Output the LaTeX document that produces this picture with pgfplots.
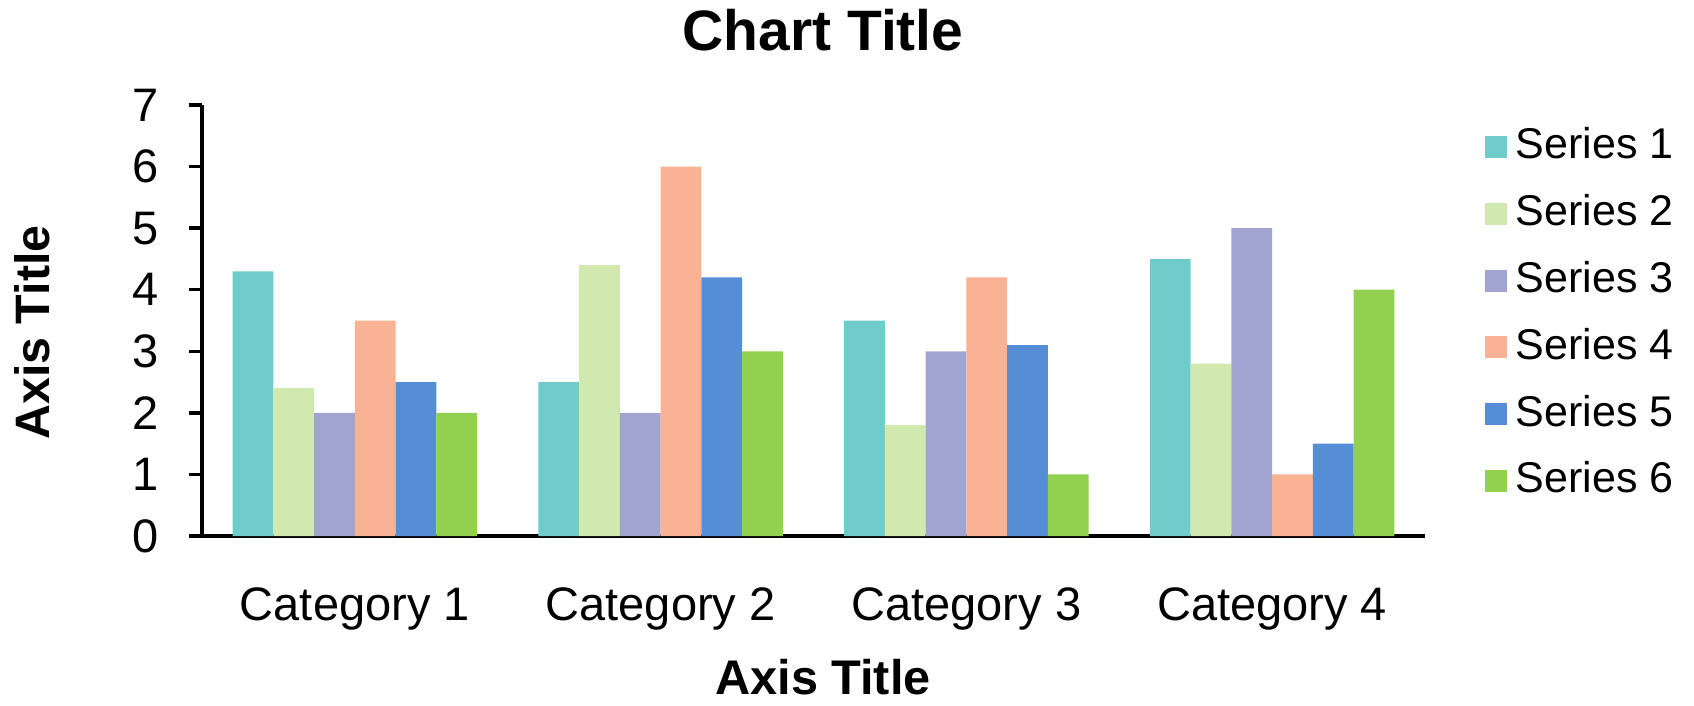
\documentclass[border=0pt]{standalone}
\usepackage{pgfplots}
\pgfplotsset{compat=1.18}
\usepackage{fontspec}
\setmainfont{Liberation Sans}

\definecolor{serA}{RGB}{112,203,203}
\definecolor{serB}{RGB}{209,233,174}
\definecolor{serC}{RGB}{161,164,208}
\definecolor{serD}{RGB}{249,178,148}
\definecolor{serE}{RGB}{85,142,213}
\definecolor{serF}{RGB}{146,208,80}

\newcommand\basefont{\fontsize{14.1}{17}\selectfont}
\newcommand\keyfont{\fontsize{12.9}{15.5}\selectfont}
\newcommand\headfont{\fontsize{17.1}{20.5}\selectfont\bfseries}
\newcommand\xlabfont{\fontsize{14.6}{17.5}\selectfont\bfseries}
\newcommand\ylabfont{\fontsize{14.5}{17.5}\selectfont\bfseries}

\begin{document}
\begin{tikzpicture}
\begin{axis}[
  at={(0pt,0pt)}, anchor=south west,
  scale only axis, width=366.9pt, height=129.3pt,
  xmin=0.5, xmax=4.5, ymin=0, ymax=7,
  axis lines=left,
  axis line style={-, line width=1pt, black},
  xtick={1,2,3,4},
  xticklabels={Category 1,Category 2,Category 3,Category 4},
  ytick={0,1,...,7},
  xtick style={draw=none},
  ytick style={line width=1pt, black},
  tick align=outside,
  major tick length=3.9pt,
  tick label style={font=\basefont},
  /pgf/number format/assume math mode=true,
  xticklabel style={anchor=base, inner sep=0pt, yshift=-21.3pt},
  yticklabel style={anchor=east, inner sep=0pt, xshift=-9pt},
  ybar, bar width=0.133333,
  every axis plot/.append style={draw=none},
  title={Chart Title},
  every axis title/.style={at={(axis description cs:0.5078,1.1276)}, anchor=base, inner sep=0pt, font=\headfont},
  xlabel={Axis Title},
  every axis x label/.style={at={(axis description cs:0.5078,-0.3689)}, anchor=base, inner sep=0pt, font=\xlabfont},
  ylabel={Axis Title},
  every axis y label/.style={at={(axis description cs:-0.1243,0.4722)}, rotate=90, anchor=base, inner sep=0pt, font=\ylabfont},
  legend image code/.code={\fill[#1] (0pt,0.3pt) rectangle (6.6pt,6.9pt);},
  legend style={at={(1.04906,0.9521)}, anchor=north west, draw=none, fill=none,
    inner sep=0pt, outer sep=0pt, row sep=10.04pt, font=\keyfont,
    nodes={inner sep=0pt, text height=10pt, text depth=0pt},
    cells={anchor=base west},
    /tikz/every odd column/.append style={column sep=2.6pt}},
]
\addplot[fill=serA, bar shift=-0.333333] coordinates {(1,4.3) (2,2.5) (3,3.5) (4,4.5)};
\addplot[fill=serB, bar shift=-0.2]      coordinates {(1,2.4) (2,4.4) (3,1.8) (4,2.8)};
\addplot[fill=serC, bar shift=-0.066667] coordinates {(1,2.0) (2,2.0) (3,3.0) (4,5.0)};
\addplot[fill=serD, bar shift=0.066667]  coordinates {(1,3.5) (2,6.0) (3,4.2) (4,1.0)};
\addplot[fill=serE, bar shift=0.2]       coordinates {(1,2.5) (2,4.2) (3,3.1) (4,1.5)};
\addplot[fill=serF, bar shift=0.333333]  coordinates {(1,2.0) (2,3.0) (3,1.0) (4,4.0)};
\legend{Series 1,Series 2,Series 3,Series 4,Series 5,Series 6}
\end{axis}
\pgfresetboundingbox
\path[use as bounding box] (-60.6pt,-50.7pt) rectangle (447.6pt,160.8pt);
\end{tikzpicture}
\end{document}
